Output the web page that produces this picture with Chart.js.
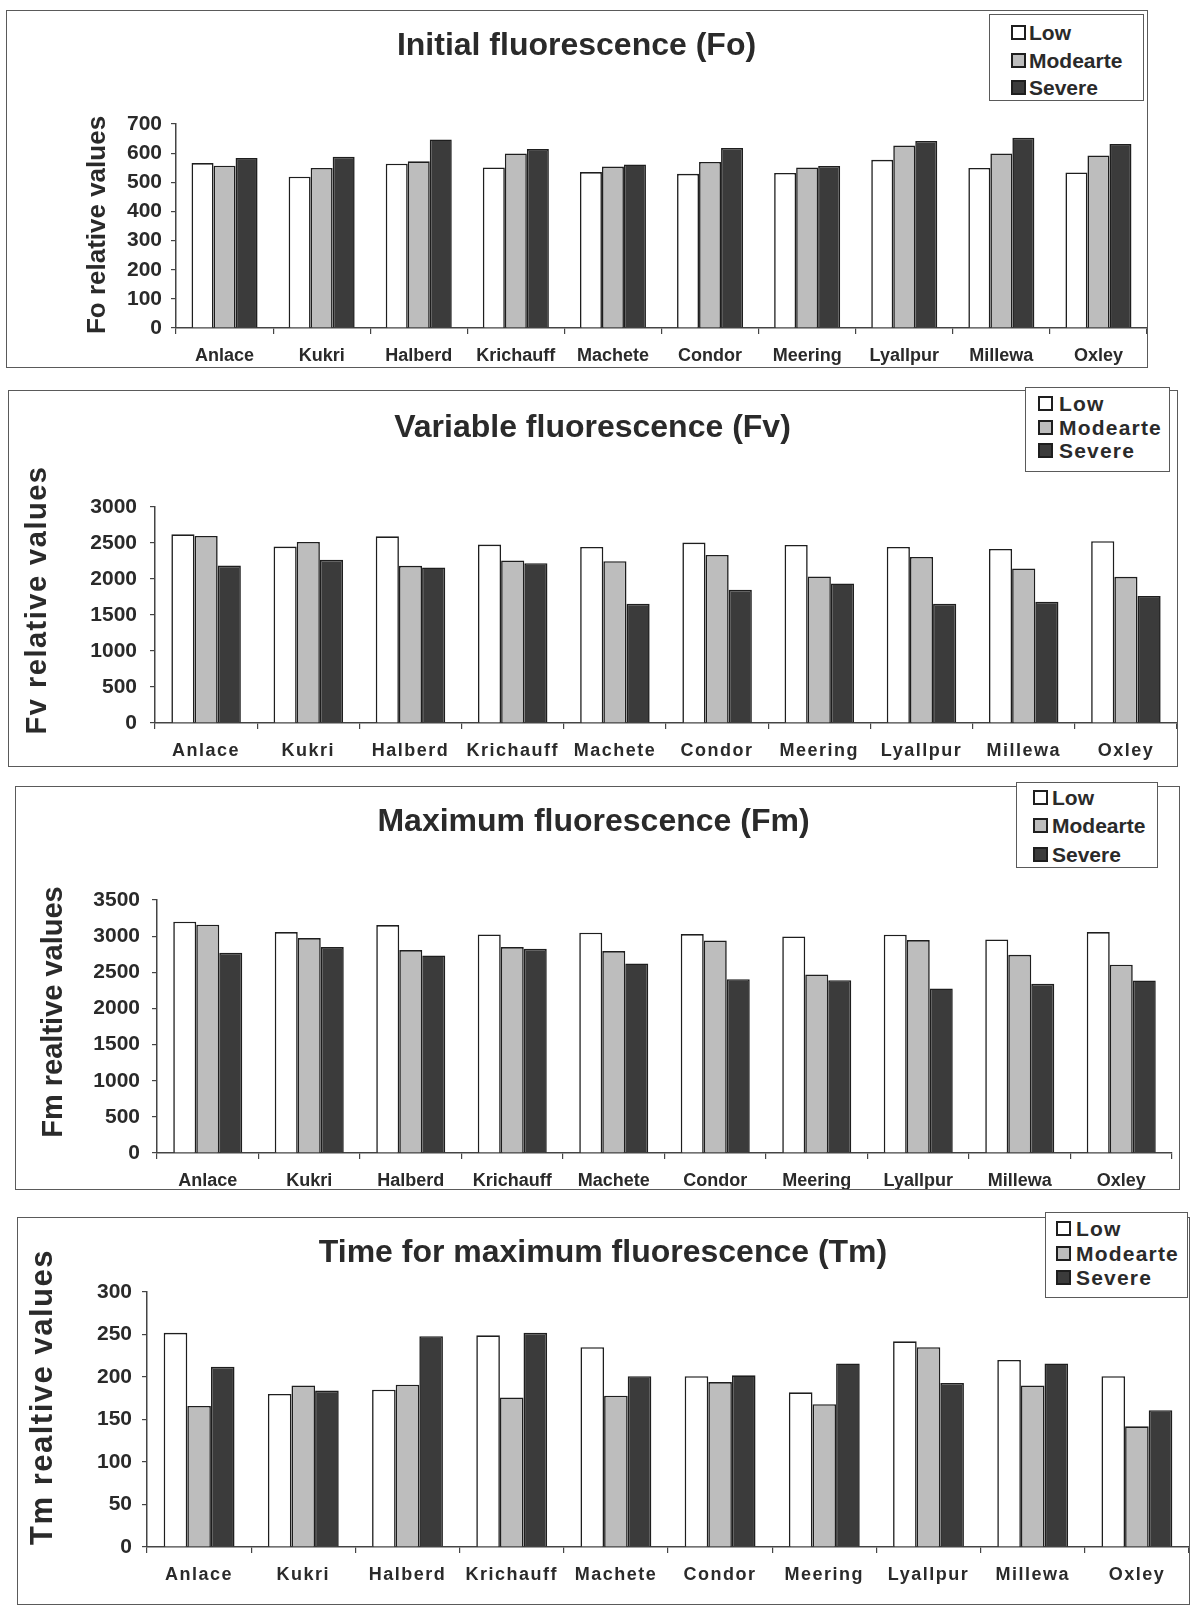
<!DOCTYPE html>
<html>
<head>
<meta charset="utf-8">
<title>Chlorophyll fluorescence of wheat cultivars</title>
<script src="https://cdn.jsdelivr.net/npm/chart.js@4.4.1/dist/chart.umd.min.js"></script>
<style>
  body {
    margin: 0;
    background: #fff;
    width: 1195px;
    height: 1608px;
    position: relative;
    overflow: hidden;
    font-family: 'Liberation Sans', Arial, Helvetica, sans-serif;
  }
  canvas, .frame, .legend { position: absolute; }
  .frame { border: 1.5px solid #5a5a5a; box-sizing: border-box; pointer-events: none; }
  .legend {
    border: 1.5px solid #5a5a5a;
    box-sizing: border-box;
    background: #fff;
    color: #2a2a2a;
    font-weight: bold;
    font-size: 21px;
  }
  .legend .item { position: absolute; display: flex; align-items: center; white-space: nowrap; line-height: 1; }
  .legend .sw { position: absolute; width: 15px; height: 15px; border: 2px solid #1e1e1e; box-sizing: border-box; }
</style>
</head>
<body>
<script>
const FONT = "'Liberation Sans', Arial, Helvetica, sans-serif";

// cultivars on the x axis
const cultivars = ['Anlace', 'Kukri', 'Halberd', 'Krichauff', 'Machete', 'Condor', 'Meering', 'Lyallpur', 'Millewa', 'Oxley'];
const levels = ['Low', 'Modearte', 'Severe'];

// Fo - initial fluorescence
const foLow      = [566, 519, 564, 551, 535, 529, 532, 577, 549, 534];
const foModerate = [557, 549, 572, 599, 554, 570, 551, 626, 599, 592];
const foSevere   = [583, 588, 647, 614, 561, 618, 556, 642, 653, 631];

// Fv - variable fluorescence
const fvLow      = [2621, 2450, 2593, 2478, 2446, 2506, 2473, 2446, 2418, 2524];
const fvModerate = [2598, 2515, 2183, 2257, 2247, 2335, 2035, 2307, 2146, 2030];
const fvSevere   = [2187, 2266, 2160, 2220, 1657, 1850, 1938, 1657, 1684, 1763];

// Fm - maximum fluorescence
const fmLow      = [3200, 3056, 3153, 3024, 3047, 3029, 2996, 3019, 2955, 3056];
const fmModerate = [3158, 2973, 2807, 2849, 2793, 2941, 2470, 2945, 2742, 2604];
const fmSevere   = [2770, 2849, 2733, 2825, 2622, 2405, 2391, 2276, 2341, 2387];

// Tm - time for maximum fluorescence
const tmLow      = [252, 180, 185, 249, 235, 201, 182, 242, 220, 201];
const tmModerate = [166, 190, 191, 176, 178, 194, 168, 235, 190, 142];
const tmSevere   = [212, 184, 248, 252, 201, 202, 216, 193, 216, 161];

// y axis ranges: [max, step]
const foAxis = [700, 100];
const fvAxis = [3000, 500];
const fmAxis = [3500, 500];
const tmAxis = [300, 50];

const fills = ['#ffffff', '#bdbdbd', '#3b3b3b'];

// page layout for each panel (px on the page)
const panels = [
  {
    title: 'Initial fluorescence (Fo)', yTitle: 'Fo relative values', series: [foLow, foModerate, foSevere], axis: foAxis,
    box: [6, 10, 1148, 368], plot: [176, 124, 1147, 328], titleY: 46, yTitleAt: [98, 225], yTitleSize: 26, tickPad: 9,
    legend: { box: [989, 14, 1144, 101], rows: [32, 60, 87], swatchX: 1010, textX: 1028 }, spaced: false
  },
  {
    title: 'Variable fluorescence (Fv)', yTitle: 'Fv relative values', series: [fvLow, fvModerate, fvSevere], axis: fvAxis,
    box: [8, 390, 1178, 767], plot: [155, 507, 1177, 723], titleY: 428, yTitleAt: [38, 600], yTitleSize: 29, tickPad: 13,
    legend: { box: [1025, 387, 1170, 472], rows: [403, 427, 450], swatchX: 1037, textX: 1058 }, spaced: true
  },
  {
    title: 'Maximum fluorescence (Fm)', yTitle: 'Fm realtive values', series: [fmLow, fmModerate, fmSevere], axis: fmAxis,
    box: [15, 786, 1180, 1190], plot: [157, 900, 1172, 1153], titleY: 822, yTitleAt: [54, 1012], yTitleSize: 29, tickPad: 12,
    legend: { box: [1016, 782, 1158, 868], rows: [797, 825, 854], swatchX: 1032, textX: 1051 }, spaced: false
  },
  {
    title: 'Time for maximum fluorescence (Tm)', yTitle: 'Tm realtive values', series: [tmLow, tmModerate, tmSevere], axis: tmAxis,
    box: [17, 1217, 1190, 1605], plot: [147, 1292, 1189, 1547], titleY: 1253, yTitleAt: [43, 1397], yTitleSize: 31, tickPad: 10,
    legend: { box: [1045, 1212, 1188, 1298], rows: [1228, 1253, 1277], swatchX: 1055, textX: 1075 }, spaced: true
  }
];

// rotated y axis caption, placed freely inside the panel
const axisTitlePlugin = {
  id: 'axisTitle',
  afterDraw(chart, args, opts) {
    const ctx = chart.ctx;
    ctx.save();
    ctx.translate(opts.x, opts.y);
    ctx.rotate(-Math.PI / 2);
    ctx.font = `bold ${opts.size}px ${FONT}`;
    ctx.fillStyle = '#2a2a2a';
    ctx.textAlign = 'center';
    ctx.textBaseline = 'middle';
    ctx.fillText(opts.text, 0, 0);
    ctx.restore();
  }
};

// x tick labels sit on layer z=1, so they are drawn after the bars;
// widen their letter spacing there for the spaced panels
const spacingPlugin = {
  id: 'spacedLabels',
  afterDatasetsDraw(chart, args, opts) {
    if (opts.spacing) chart.ctx.letterSpacing = opts.spacing;
  },
  afterDraw(chart) {
    chart.ctx.letterSpacing = '0px';
  }
};

function makeLegend(chart, spec, spaced) {
  const [l, t, r, b] = spec.box;
  const div = document.createElement('div');
  div.className = 'legend';
  div.style.left = l + 'px';
  div.style.top = t + 'px';
  div.style.width = (r - l) + 'px';
  div.style.height = (b - t) + 'px';
  if (spaced) div.style.letterSpacing = '1.2px';
  chart.data.datasets.forEach((ds, i) => {
    const sw = document.createElement('span');
    sw.className = 'sw';
    sw.style.background = ds.backgroundColor;
    sw.style.left = (spec.swatchX - l) + 'px';
    sw.style.top = (spec.rows[i] - t - 8) + 'px';
    div.appendChild(sw);
    const item = document.createElement('span');
    item.className = 'item';
    item.textContent = ds.label;
    item.style.left = (spec.textX - l) + 'px';
    item.style.top = (spec.rows[i] - t - 11) + 'px';
    div.appendChild(item);
  });
  document.body.appendChild(div);
}

panels.forEach(p => {
  const [bl, bt, br, bb] = p.box;
  const [pl, pt, pr, pb] = p.plot;
  const w = br - bl, h = bb - bt;

  const canvas = document.createElement('canvas');
  canvas.width = w;
  canvas.height = h;
  canvas.style.left = bl + 'px';
  canvas.style.top = bt + 'px';
  canvas.style.width = w + 'px';
  canvas.style.height = h + 'px';
  document.body.appendChild(canvas);

  const frame = document.createElement('div');
  frame.className = 'frame';
  frame.style.left = bl + 'px';
  frame.style.top = bt + 'px';
  frame.style.width = w + 'px';
  frame.style.height = h + 'px';
  document.body.appendChild(frame);

  const titleSize = 32;
  const titleTop = p.titleY - bt - titleSize * 0.6;
  const titleBottom = (pt - bt) - titleTop - titleSize * 1.2;

  const chart = new Chart(canvas, {
    type: 'bar',
    data: {
      labels: cultivars,
      datasets: levels.map((lv, k) => ({
        label: lv,
        data: p.series[k],
        backgroundColor: fills[k],
        borderColor: '#1e1e1e',
        borderWidth: 1.6,
        categoryPercentage: 0.68,
        barPercentage: 1.0
      }))
    },
    options: {
      responsive: false,
      animation: false,
      devicePixelRatio: 1,
      layout: { padding: { left: 0, top: 0, bottom: 0, right: br - pr } },
      plugins: {
        legend: { display: false },
        tooltip: { enabled: false },
        title: {
          display: true,
          text: p.title,
          color: '#2a2a2a',
          font: { family: FONT, size: titleSize, weight: 'bold' },
          padding: { top: titleTop, bottom: titleBottom }
        },
        axisTitle: { text: p.yTitle, size: p.yTitleSize, x: p.yTitleAt[0] - bl, y: p.yTitleAt[1] - bt },
        spacedLabels: { spacing: p.spaced ? '1.5px' : '' }
      },
      scales: {
        x: {
          grid: { display: true, drawOnChartArea: false, offset: true, tickLength: 6, color: '#444', lineWidth: 1.2 },
          border: { color: '#444', width: 1.5 },
          ticks: {
            color: '#2a2a2a',
            font: { family: FONT, size: 18, weight: 'bold' },
            padding: 11,
            z: 1,
            maxRotation: 0,
            autoSkip: false
          },
          afterFit: s => { s.height = bb - pb; }
        },
        y: {
          min: 0,
          max: p.axis[0],
          grid: { drawOnChartArea: false, tickLength: 5, color: '#444', lineWidth: 1.2 },
          border: { color: '#444', width: 1.5 },
          ticks: {
            stepSize: p.axis[1],
            format: { useGrouping: false },
            color: '#2a2a2a',
            font: { family: FONT, size: 21, weight: 'bold' },
            padding: p.tickPad
          },
          afterFit: s => { s.width = pl - bl; }
        }
      }
    },
    plugins: [axisTitlePlugin, spacingPlugin]
  });

  makeLegend(chart, p.legend, p.spaced);
});
</script>
</body>
</html>
